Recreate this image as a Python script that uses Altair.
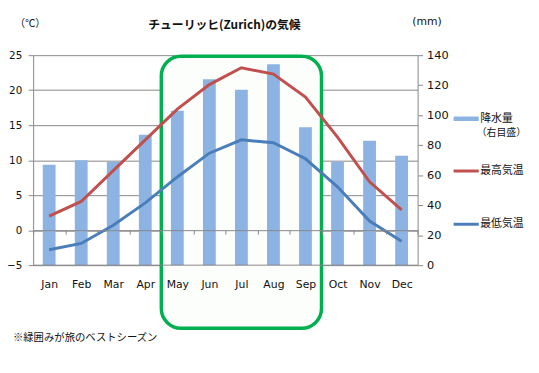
import altair as alt
import pandas as pd

months = ["Jan", "Feb", "Mar", "Apr", "May", "Jun", "Jul", "Aug", "Sep", "Oct", "Nov", "Dec"]
precip = [67, 70, 69, 87, 103, 124, 117, 134, 92, 69, 83, 73]
tmax = [2.0, 4.1, 8.5, 12.9, 17.3, 20.8, 23.2, 22.3, 19.0, 13.3, 6.9, 2.9]
tmin = [-2.8, -1.9, 0.7, 3.9, 7.6, 11.0, 12.9, 12.5, 10.2, 6.2, 1.3, -1.6]
temp_ticks = [-5, 0, 5, 10, 15, 20, 25]
precip_ticks = [0, 20, 40, 60, 80, 100, 120, 140]
season_start, season_end = "May", "Sep"

title_text = "チューリッヒ(Zurich)の気候"
unit_left = "（℃）"
unit_right = "(mm)"
note_text = "※緑囲みが旅のベストシーズン"
legend_precip = ["降水量", "（右目盛）"]
legend_max = "最高気温"
legend_min = "最低気温"

JP = "Noto Sans CJK JP"
NUM = "DejaVu Sans"
GRID = "#878787"
BAR = "#8DB3E2"
RED = "#C0504D"
BLUE = "#4A7EBB"
GREEN = "#00B050"

df_bar = pd.DataFrame({"month": months, "precip": precip})
df_line = pd.DataFrame({
    "month": months * 2,
    "series": [legend_max] * 12 + [legend_min] * 12,
    "temp": tmax + tmin,
})

xscale = alt.Scale(domain=months, paddingInner=0, paddingOuter=0)
xaxis = alt.Axis(
    title=None, orient="bottom", offset=-35.5, zindex=1, domainColor=GRID,
    tickColor=GRID, tickSize=4, tickBand="extent", labelPadding=45,
    labelFont=NUM, labelFontSize=11, labelColor="#111", labelAngle=0, grid=False,
)
tscale = alt.Scale(domain=[-5, 25], nice=False)
taxis = alt.Axis(title=None, orient="left", values=temp_ticks, grid=True,
                 gridColor=GRID, domainColor=GRID, tickColor=GRID, tickSize=5,
                 labelPadding=6.5, labelFont=NUM, labelFontSize=10.5, labelColor="#111")

rect = alt.Chart(pd.DataFrame({"start": [season_start], "end": [season_end]})).mark_rect(
    cornerRadius=20, stroke=GREEN, strokeWidth=3.5, fill="#fcfefc", clip=False
).encode(
    x=alt.X("start:N", scale=xscale, axis=xaxis, bandPosition=0),
    x2=alt.X2("end:N", bandPosition=1),
    y=alt.value(1),
    y2=alt.value(277),
)

bars = alt.Chart(df_bar).mark_bar(size=13, color=BAR).encode(
    x=alt.X("month:N", scale=xscale, axis=xaxis, sort=months),
    y=alt.Y("precip:Q", scale=alt.Scale(domain=[0, 140], nice=False),
            axis=alt.Axis(title=None, orient="right", values=precip_ticks, grid=False,
                          domainColor=GRID, tickColor=GRID, tickSize=5, labelPadding=4,
                          labelFont=NUM, labelFontSize=11.5, labelColor="#111")),
)

lines = alt.Chart(df_line).mark_line(strokeWidth=3).encode(
    x=alt.X("month:N", scale=xscale, axis=xaxis, sort=months),
    y=alt.Y("temp:Q", scale=tscale, axis=taxis),
    color=alt.Color("series:N", scale=alt.Scale(domain=[legend_max, legend_min], range=[RED, BLUE]),
                    legend=None),
    detail="series:N",
)

bottom_rule = alt.Chart(pd.DataFrame({"temp": [temp_ticks[0]]})).mark_rule(color=GRID, strokeWidth=1).encode(
    y=alt.Y("temp:Q", scale=tscale, axis=taxis)
)

temp_layer = alt.layer(lines, bottom_rule)


def text_layer(txt, x, y, font=JP, size=11, weight="normal", align="left"):
    return alt.Chart(pd.DataFrame({"t": [txt]})).mark_text(
        font=font, fontSize=size, fontWeight=weight, align=align, baseline="middle",
        color="#111"
    ).encode(text="t:N", x=alt.value(x), y=alt.value(y))


def legend_sym(color, y, width):
    return alt.Chart(pd.DataFrame({"c": [color]})).mark_rule(color=color, strokeWidth=width).encode(
        x=alt.value(426.5), x2=alt.value(452), y=alt.value(y)
    )


annotations = [
    text_layer(title_text, 194, -31, size=12, weight="bold", align="center"),
    text_layer(unit_left, -3, -32, size=10.5, align="center"),
    text_layer(unit_right, 399.5, -34, font=NUM, size=11, align="center"),
    text_layer(note_text, -20.5, 286.5, size=10.5),
    text_layer(legend_precip[0], 453.5, 64.5),
    text_layer(legend_precip[1], 450, 78.5, size=10),
    text_layer(legend_max, 453.5, 117.5),
    text_layer(legend_min, 453.5, 171.5),
    legend_sym(BAR, 64.5, 4.5),
    legend_sym(RED, 117.5, 3),
    legend_sym(BLUE, 171.5, 3),
]

chart = alt.layer(rect, bars, temp_layer, *annotations).resolve_scale(y="independent").properties(
    width=390, height=213, autosize="none",
    padding={"left": 25.5, "top": 45.3, "right": 115, "bottom": 98},
).configure_view(stroke=None)

chart.save("out.html", embed_options={"renderer": "svg", "actions": False})
